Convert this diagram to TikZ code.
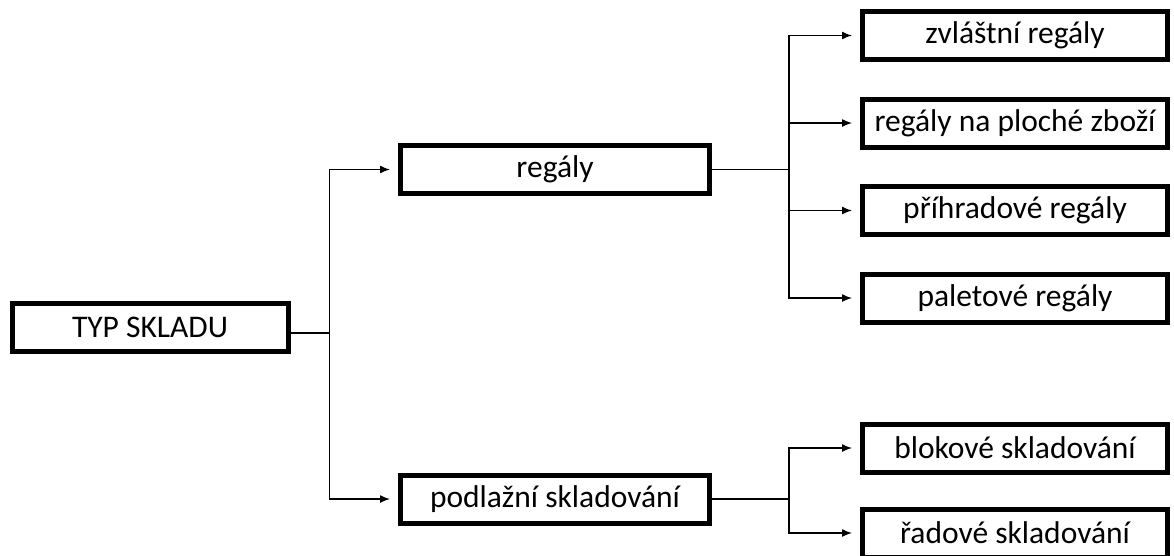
\documentclass[tikz,border=0pt]{standalone}
\usepackage{fontspec}
\setmainfont{Carlito}
\usepackage{tikz}
\usetikzlibrary{arrows.meta}

\begin{document}
\begin{tikzpicture}[x=1pt,y=-1pt,
    box/.style={draw,line width=5pt,minimum height=48pt,inner sep=0pt,
      font=\fontsize{31.5}{36}\selectfont},
    every path/.style={line width=1.4pt},
    shorten >=8pt]
      \useasboundingbox (0,0) rectangle (1174,555);
      \node[box,minimum width=276pt] (1) at (150,327) {TYP SKLADU};
      \node[box,minimum width=309pt] (2) at (555,169.5) {regály};
      \node[box,minimum width=309pt] (3) at (555,499) {podlažní skladování};
      \node[box,minimum width=305pt] (4) at (1015,35.5) {zvláštní regály};
      \node[box,minimum width=305pt,below of=4,node distance=87.5pt] (5) {regály na ploché zboží};
      \node[box,minimum width=305pt,below of=5,node distance=87.5pt] (6) {příhradové regály};
      \node[box,minimum width=305pt,below of=6,node distance=87.5pt] (7) {paletové regály};
      \node[box,minimum width=305pt] (8) at (1015,448) {blokové skladování};
      \node[box,minimum width=305pt,below of=8,node distance=85pt] (9) {řadové skladování};

      \draw[-{Latex[length=10pt,width=8pt]}] ([yshift=-6pt]1.east) -- ++(39,0) |- (2);
      \draw[-{Latex[length=10pt,width=8pt]}] ([yshift=-6pt]1.east) -- ++(39,0) |- (3);
      \draw[-{Latex[length=10pt,width=8pt]}] (2.east) -- ++(77,0) |- (4);
      \draw[-{Latex[length=10pt,width=8pt]}] (2.east) -- ++(77,0) |- (5);
      \draw[-{Latex[length=10pt,width=8pt]}] (2.east) -- ++(77,0) |- (6);
      \draw[-{Latex[length=10pt,width=8pt]}] (2.east) -- ++(77,0) |- (7);
      \draw[-{Latex[length=10pt,width=8pt]}] (3.east) -- ++(77,0) |- (8);
      \draw[-{Latex[length=10pt,width=8pt]}] (3.east) -- ++(77,0) |- (9);
    \end{tikzpicture}
\end{document}
